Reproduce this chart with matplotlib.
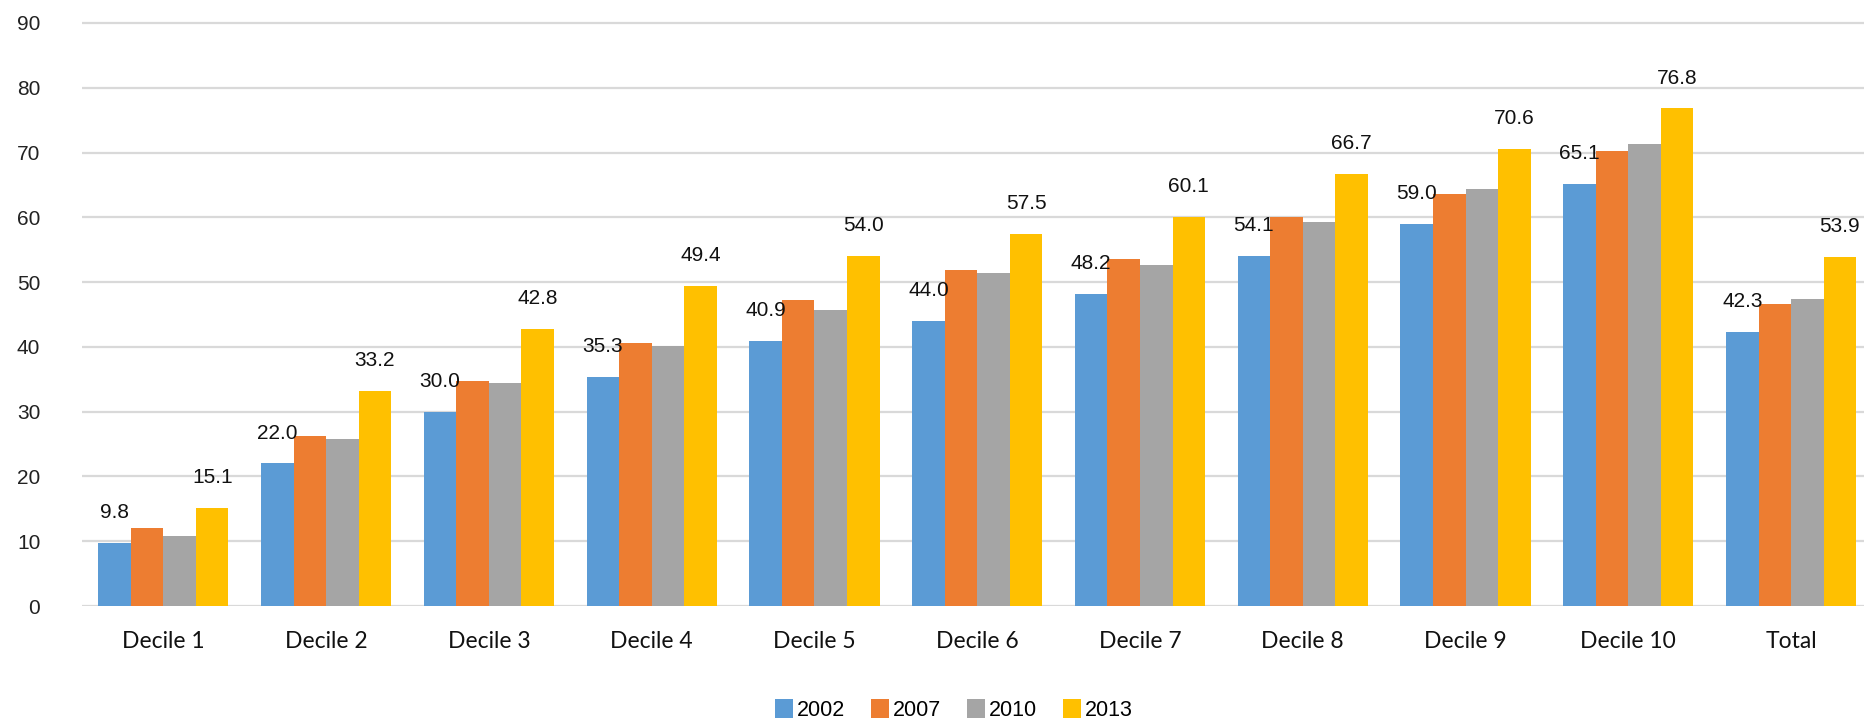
import numpy as np
import matplotlib
matplotlib.use("Agg")
import matplotlib.pyplot as plt

# 各组数值
categories = ["Decile 1", "Decile 2", "Decile 3", "Decile 4", "Decile 5",
              "Decile 6", "Decile 7", "Decile 8", "Decile 9", "Decile 10", "Total"]
years = ["2002", "2007", "2010", "2013"]
v2002 = [9.8, 22.0, 30.0, 35.3, 40.9, 44.0, 48.2, 54.1, 59.0, 65.1, 42.3]
v2007 = [12.0, 26.3, 34.8, 40.6, 47.3, 51.8, 53.5, 60.0, 63.6, 70.2, 46.6]
v2010 = [10.8, 25.8, 34.4, 40.2, 45.7, 51.4, 52.6, 59.2, 64.3, 71.3, 47.4]
v2013 = [15.1, 33.2, 42.8, 49.4, 54.0, 57.5, 60.1, 66.7, 70.6, 76.8, 53.9]
y_ticks = [0, 10, 20, 30, 40, 50, 60, 70, 80, 90]

series = [v2002, v2007, v2010, v2013]
colors = ["#5B9BD5", "#ED7D31", "#A5A5A5", "#FFC000"]
labelled = [True, False, False, True]
fam = ["Liberation Sans", "DejaVu Sans"]

W, H = 1864, 722
fig = plt.figure(figsize=(W / 100, H / 100), dpi=100)
ax = fig.add_axes([82 / W, (H - 606) / H, 1 - 82 / W, (606 - 10) / H])

x = np.arange(len(categories))
bw = 0.2
for i, (vals, c, lab) in enumerate(zip(series, colors, labelled)):
    bars = ax.bar(x + (i - 1.5) * bw, vals, bw, color=c, label=years[i], zorder=2)
    if lab:
        ax.bar_label(bars, fmt="%.1f", padding=15, fontsize=15, family=fam, color="#111111")

ax.set_ylim(0, 92)
ax.set_xlim(-0.5, 10 + (1864 - 1791) / 163)
ax.set_yticks(y_ticks)
ax.set_yticklabels([str(t) for t in y_ticks], family=fam, fontsize=15, color="#222222")
ax.set_xticks(x)
ax.set_xticklabels(categories, family=["Lato", "DejaVu Sans"], fontsize=16.5, color="#111111")
ax.tick_params(axis="y", length=0, pad=30)
ax.tick_params(axis="x", length=0, pad=18)
ax.yaxis.grid(True, color="#D9D9D9", linewidth=1.6, zorder=0)
ax.set_axisbelow(True)
for s in ax.spines.values():
    s.set_visible(False)

fig.legend(loc="center", bbox_to_anchor=(954 / W, (H - 710) / H), ncol=4, frameon=False,
           prop={"family": fam, "size": 15.5},
           handlelength=0.82, handleheight=1.0, handletextpad=0.2, columnspacing=1.2)

fig.savefig("out.png", dpi=100, facecolor="white")
